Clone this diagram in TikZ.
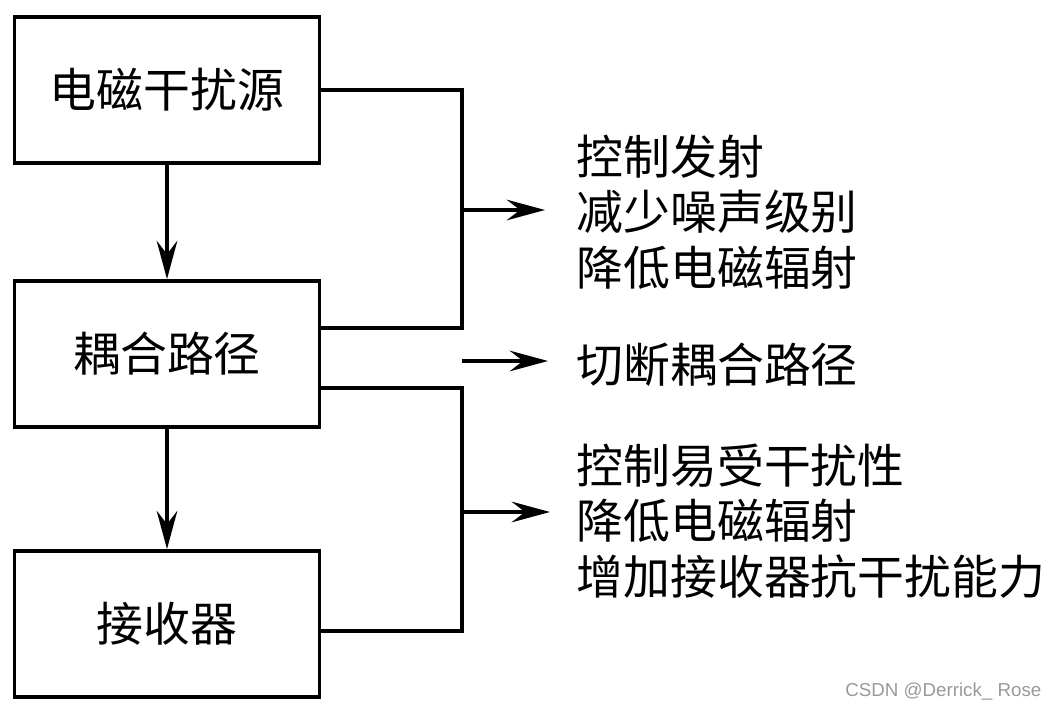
\documentclass[tikz,border=0pt]{standalone}
\usepackage{fontspec}
\newfontfamily\cjk{Noto Sans CJK SC}
\newfontfamily\marksans{Liberation Sans}
\usetikzlibrary{arrows.meta,calc}

\begin{document}
\begin{tikzpicture}[x=0.03cm,y=-0.03cm,line width=2.8pt,
  box/.style={draw,line width=3.2pt,minimum width=9.15cm,minimum height=4.38cm,font=\cjk\fontsize{40}{48}\selectfont},
  note/.style={anchor=west,align=left,inner sep=0pt,font=\cjk\fontsize{40}{47.4}\selectfont},
  arr/.style={-{Stealth[length=1.15cm,width=0.62cm,inset=0.4cm]}}]
  \useasboundingbox (0,0) rectangle (1058,711);

  \node[box] (src) at (167,90) {电磁干扰源};
  \node[box] (path) at (167,354) {耦合路径};
  \node[box] (recv) at (167,624) {接收器};

  \path[arr] (src) edge (path);
  \path[arr] (path) edge (recv);

  \coordinate (j1) at (462,210);
  \coordinate (a1) at (545,210);
  \coordinate (m0) at (462,361);
  \coordinate (a2) at (548,361);
  \coordinate (j2) at (462,512);
  \coordinate (a3) at (550,512);

  \draw (src.east) -| (j1) |- ($(path.east)+(0,-26)$);
  \draw[arr] (j1) -- (a1);
  \draw[arr] (m0) -- (a2);
  \draw ($(path.east)+(0,34)$) -| (j2) |- ($(recv.east)+(0,7)$);
  \draw[arr] (j2) -- (a3);

  \node[note] (emit) at (575,212) {控制发射\\减少噪声级别\\降低电磁辐射};
  \node[note] (cut) at (575,365) {切断耦合路径};
  \node[note] (immu) at (575,521) {控制易受干扰性\\降低电磁辐射\\增加接收器抗干扰能力};

  \node[anchor=east,inner sep=0pt,text=gray!80,font=\marksans\fontsize{16}{18}\selectfont] (mark) at (1043,692) {CSDN @Derrick\_ Rose};
\end{tikzpicture}
\end{document}
